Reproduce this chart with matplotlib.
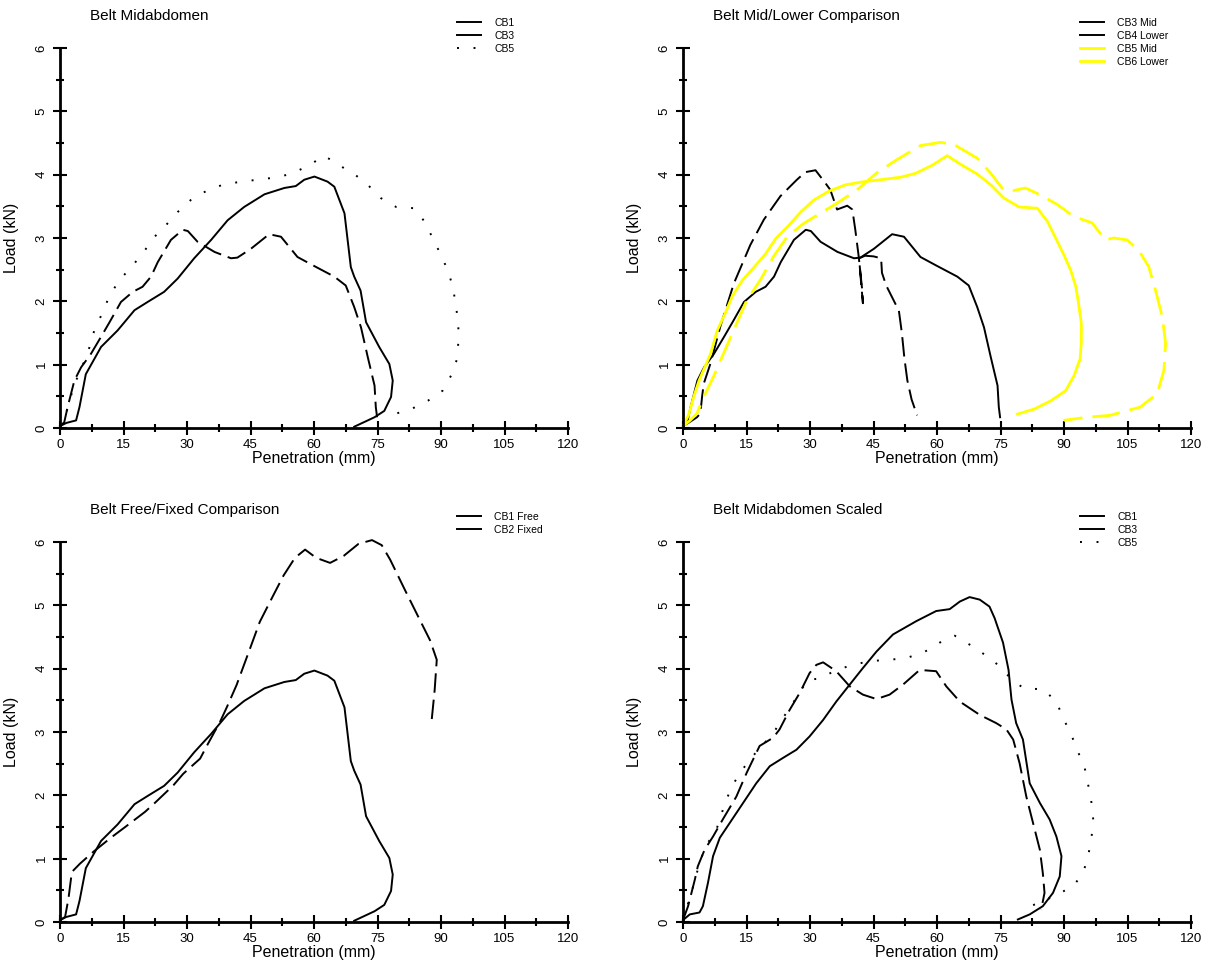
import matplotlib
matplotlib.use("Agg")
import matplotlib.pyplot as plt
from matplotlib.lines import Line2D
from matplotlib.ticker import MultipleLocator

plt.rcParams['font.family'] = ['Liberation Sans', 'DejaVu Sans']

# CB1 (free) - penetration (mm), load (kN)
cb1_x = [0, 1.5, 3.8, 4.6, 6.1, 9.7, 13.6, 17.6, 20.7, 24.6, 27.8, 31.7, 35.7, 39.6, 43.5,
         48.3, 53.0, 55.7, 57.7, 60.1, 63.2, 64.8, 67.2, 68.7, 69.5, 71.0, 72.3, 75.4,
         77.8, 78.6, 78.2, 76.6, 74.3, 69.5]
cb1_y = [0.03, 0.08, 0.12, 0.33, 0.85, 1.28, 1.54, 1.86, 1.99, 2.15, 2.36, 2.68, 2.97, 3.28,
         3.49, 3.69, 3.79, 3.82, 3.92, 3.97, 3.89, 3.81, 3.39, 2.54, 2.39, 2.17, 1.67, 1.28,
         1.01, 0.75, 0.49, 0.27, 0.17, 0.02]

# CB3 (mid)
cb3_x = [0, 1.0, 1.8, 2.6, 3.4, 5.0, 7.3, 9.7, 11.7, 14.4, 17.2, 19.5, 21.5, 23.1, 26.2,
         29.0, 30.2, 32.5, 36.5, 40.4, 41.9, 45.1, 49.4, 52.2, 56.1, 59.7, 64.8, 67.5,
         69.5, 71.1, 72.7, 74.3, 74.6, 74.9]
cb3_y = [0.03, 0.09, 0.33, 0.54, 0.75, 0.96, 1.17, 1.44, 1.67, 1.99, 2.15, 2.23, 2.39, 2.62,
         2.97, 3.13, 3.11, 2.94, 2.78, 2.68, 2.69, 2.83, 3.06, 3.02, 2.70, 2.57, 2.39, 2.25,
         1.91, 1.59, 1.12, 0.67, 0.33, 0.17]

# CB5 (mid)
cb5_x = [0, 1.3, 2.6, 3.8, 6.5, 8.1, 10.1, 11.7, 14.0, 16.8, 19.5, 21.9, 25.0, 27.8, 30.9,
         34.5, 38.4, 42.8, 46.7, 51.4, 54.9, 58.9, 62.4, 65.9, 69.5, 72.7, 75.8, 79.4,
         83.7, 86.1, 88.1, 90.0, 91.6, 92.8, 93.5, 94.1, 94.1, 93.8, 92.4, 90.4, 86.9,
         83.0, 79.0]
cb5_y = [0.03, 0.2, 0.51, 0.75, 1.17, 1.54, 1.83, 2.09, 2.33, 2.54, 2.75, 2.99, 3.20, 3.41,
         3.60, 3.74, 3.84, 3.89, 3.92, 3.96, 4.02, 4.15, 4.30, 4.15, 4.01, 3.84, 3.63, 3.49,
         3.47, 3.26, 2.99, 2.73, 2.49, 2.23, 1.94, 1.65, 1.36, 1.09, 0.83, 0.59, 0.43,
         0.30, 0.22]

# CB4 (lower)
cb4_x = [0, 1.7, 3.3, 4.1, 4.5, 4.9, 6.5, 8.8, 12.0, 15.9, 19.1, 23.0, 26.9, 28.9, 31.3,
         33.6, 34.8, 36.4, 38.8, 40.0, 40.7, 41.5, 42.3, 42.5, 42.0, 41.6, 43.0, 45.0,
         46.8, 47.0, 48.0, 49.5, 51.0, 51.7, 52.3, 53.0, 54.0, 55.3]
cb4_y = [0.03, 0.1, 0.17, 0.23, 0.49, 0.70, 1.02, 1.60, 2.28, 2.89, 3.29, 3.66, 3.92, 4.04,
         4.07, 3.87, 3.76, 3.45, 3.51, 3.45, 3.13, 2.71, 2.20, 1.97, 2.35, 2.68, 2.72, 2.71,
         2.68, 2.45, 2.25, 2.05, 1.85, 1.50, 1.10, 0.75, 0.45, 0.20]

# CB6 (lower)
cb6_x = [0, 1.7, 3.3, 4.9, 7.2, 9.6, 12.0, 15.1, 18.3, 21.4, 24.6, 28.5, 32.4, 36.4, 41.1,
         45.8, 50.6, 56.1, 60.8, 63.9, 69.5, 72.6, 75.7, 78.1, 80.9, 84.4, 88.4, 92.3,
         96.6, 99.8, 101.7, 104.9, 107.6, 110.0, 111.6, 113.2, 114.0, 113.6, 112.0,
         108.0, 100.9, 95.4, 89.9]
cb6_y = [0.03, 0.12, 0.23, 0.49, 0.81, 1.18, 1.55, 2.02, 2.34, 2.71, 3.02, 3.23, 3.39, 3.55,
         3.76, 4.03, 4.24, 4.46, 4.51, 4.48, 4.26, 4.03, 3.76, 3.75, 3.79, 3.68, 3.53, 3.34,
         3.24, 2.97, 3.00, 2.97, 2.81, 2.55, 2.18, 1.76, 1.34, 0.91, 0.54, 0.33, 0.20,
         0.17, 0.12]

# CB2 (fixed)
cb2_x = [0, 1.2, 2.0, 2.8, 4.7, 7.9, 12.2, 15.4, 20.1, 22.4, 26.8, 29.1, 33.1, 35.0, 37.8,
         39.4, 41.7, 44.9, 47.2, 50.4, 52.8, 55.5, 57.9, 60.5, 63.8, 67.0, 70.5, 73.7,
         76.0, 78.0, 81.5, 85.0, 87.4, 89.0, 88.5, 87.8]
cb2_y = [0.03, 0.08, 0.37, 0.79, 0.92, 1.11, 1.34, 1.50, 1.74, 1.88, 2.16, 2.34, 2.58, 2.82,
         3.16, 3.39, 3.74, 4.32, 4.74, 5.16, 5.47, 5.75, 5.88, 5.75, 5.67, 5.78, 5.97, 6.03,
         5.95, 5.72, 5.24, 4.77, 4.45, 4.14, 3.66, 3.19]

# scaled responses
cb1s_x = [0, 1.6, 3.9, 4.7, 5.9, 7.1, 8.7, 11.0, 14.2, 17.3, 20.5, 23.6, 26.8, 29.9, 33.1,
          36.2, 39.4, 42.5, 45.7, 49.6, 55.1, 59.8, 63.0, 65.4, 67.7, 70.1, 72.4, 73.6,
          75.6, 76.9, 77.6, 78.7, 80.3, 81.9, 84.3, 86.6, 88.2, 89.4, 89.0, 87.4, 85.0,
          81.9, 79.1]
cb1s_y = [0.03, 0.12, 0.15, 0.25, 0.62, 1.04, 1.33, 1.56, 1.88, 2.19, 2.46, 2.59, 2.72,
          2.93, 3.19, 3.48, 3.75, 4.01, 4.27, 4.54, 4.75, 4.91, 4.94, 5.06, 5.13, 5.09, 4.98,
          4.80, 4.41, 3.98, 3.51, 3.14, 2.88, 2.19, 1.88, 1.62, 1.35, 1.04, 0.72, 0.46, 0.25,
          0.12, 0.04]
cb3s_x = [0, 1.2, 2.0, 2.8, 3.5, 5.1, 7.1, 9.4, 12.6, 15.0, 18.1, 21.3, 22.8, 25.2, 27.6,
          29.9, 31.5, 33.1, 36.2, 39.4, 42.5, 45.7, 48.8, 52.0, 55.9, 59.8, 62.2, 65.4,
          70.1, 74.0, 76.4, 78.0, 79.5, 81.1, 82.7, 84.3, 85.0, 85.4, 84.6]
cb3s_y = [0.03, 0.25, 0.46, 0.67, 0.88, 1.14, 1.35, 1.62, 1.98, 2.35, 2.78, 2.91, 3.04,
          3.35, 3.62, 3.93, 4.06, 4.10, 3.96, 3.72, 3.59, 3.52, 3.59, 3.75, 3.98, 3.96, 3.72,
          3.48, 3.27, 3.14, 3.04, 2.88, 2.51, 1.98, 1.56, 1.14, 0.77, 0.46, 0.19]
cb5s_x = [0, 2.4, 3.5, 5.1, 7.9, 9.8, 11.4, 13.4, 16.1, 18.9, 21.3, 23.6, 26.0, 29.5, 32.3,
          36.2, 40.2, 44.1, 48.8, 52.8, 56.7, 60.6, 64.2, 67.7, 71.3, 74.8, 77.6, 80.7,
          85.0, 88.2, 89.8, 91.7, 93.3, 94.9, 95.7, 96.5, 96.9, 96.5, 95.7, 94.5, 92.1,
          88.2, 84.3, 80.3]
cb5s_y = [0.03, 0.56, 0.83, 1.17, 1.46, 1.85, 2.12, 2.35, 2.59, 2.80, 2.98, 3.22, 3.46,
          3.83, 3.84, 3.98, 4.06, 4.12, 4.14, 4.17, 4.25, 4.41, 4.52, 4.38, 4.22, 4.04, 3.83,
          3.68, 3.68, 3.48, 3.22, 2.96, 2.69, 2.43, 2.17, 1.88, 1.62, 1.33, 1.04, 0.77, 0.56,
          0.43, 0.30, 0.22]

titles = ["Belt Midabdomen", "Belt Mid/Lower Comparison",
          "Belt Free/Fixed Comparison", "Belt Midabdomen Scaled"]

LW = 1.4
SOLID = '-'
DASH = (0, (10, 3.6))
DOT = (0, (1, 7.5))
YEL = '#ffff00'


def style_axes(ax, title):
    for s in ['top', 'right']:
        ax.spines[s].set_visible(False)
    for s in ['left', 'bottom']:
        ax.spines[s].set_linewidth(2)
    ax.set_xlim(0, 120)
    ax.set_ylim(0, 6)
    ax.xaxis.set_major_locator(MultipleLocator(15))
    ax.xaxis.set_minor_locator(MultipleLocator(7.5))
    ax.yaxis.set_major_locator(MultipleLocator(1))
    ax.yaxis.set_minor_locator(MultipleLocator(0.5))
    ax.tick_params(which='major', direction='inout', length=10, width=1.5, labelsize=9.5)
    ax.tick_params(which='minor', direction='inout', length=6, width=1.5)
    ax.tick_params(axis='x', pad=3)
    ax.tick_params(axis='y', pad=4)
    for lab in ax.get_yticklabels():
        lab.set_rotation(90)
        lab.set_va('center')
    ax.set_xlabel("Penetration (mm)", fontsize=11.5, labelpad=0)
    ax.set_ylabel("Load (kN)", fontsize=11.5, labelpad=12)
    ax.text(0.059, 1.085, title, transform=ax.transAxes, fontsize=11, va='center')


fig = plt.figure(figsize=(12.14, 9.69), dpi=100)
W, H = 1214, 969
positions = [(60, 428), (683, 428), (60, 922), (683, 922)]
axes = []
for (x0, y0) in positions:
    ax = fig.add_axes([x0 / W, 1 - y0 / H, 508 / W, 380 / H])
    axes.append(ax)

# panel 1
ax = axes[0]
ax.plot(cb1_x, cb1_y, color='k', lw=LW, ls=SOLID, clip_on=False)
ax.plot(cb3_x, cb3_y, color='k', lw=LW, ls=DASH, clip_on=False)
ax.plot(cb5_x, cb5_y, color='k', lw=LW, ls=DOT, clip_on=False)
leg1 = [Line2D([], [], color='k', lw=LW), Line2D([], [], color='k', lw=LW),
        Line2D([], [], color='k', lw=LW, ls=DOT)]
labels1 = ["CB1", "CB3", "CB5"]

# panel 2
ax = axes[1]
ax.plot(cb3_x, cb3_y, color='k', lw=LW, ls=SOLID, clip_on=False)
ax.plot(cb4_x, cb4_y, color='k', lw=LW, ls=DASH, clip_on=False)
ax.plot(cb5_x, cb5_y, color=YEL, lw=2, ls=SOLID, clip_on=False)
ax.plot(cb6_x, cb6_y, color=YEL, lw=2, ls=DASH, clip_on=False)
leg2 = [Line2D([], [], color='k', lw=LW), Line2D([], [], color='k', lw=LW),
        Line2D([], [], color=YEL, lw=2), Line2D([], [], color=YEL, lw=2)]
labels2 = ["CB3 Mid", "CB4 Lower", "CB5 Mid", "CB6 Lower"]

# panel 3
ax = axes[2]
ax.plot(cb1_x, cb1_y, color='k', lw=LW, ls=SOLID, clip_on=False)
ax.plot(cb2_x, cb2_y, color='k', lw=LW, ls=DASH, clip_on=False)
leg3 = [Line2D([], [], color='k', lw=LW), Line2D([], [], color='k', lw=LW)]
labels3 = ["CB1 Free", "CB2 Fixed"]

# panel 4
ax = axes[3]
ax.plot(cb1s_x, cb1s_y, color='k', lw=LW, ls=SOLID, clip_on=False)
ax.plot(cb3s_x, cb3s_y, color='k', lw=LW, ls=DASH, clip_on=False)
ax.plot(cb5s_x, cb5s_y, color='k', lw=LW, ls=DOT, clip_on=False)

legends = [(leg1, labels1), (leg2, labels2), (leg3, labels3), (leg1, labels1)]
for ax, t, (hs, ls) in zip(axes, titles, legends):
    style_axes(ax, t)
    ax.legend(hs, ls, loc='upper left', bbox_to_anchor=(0.781, 1.08), frameon=False,
              fontsize=7.5, handlelength=2.3, handletextpad=1.3, labelspacing=0.3,
              borderaxespad=0, borderpad=0)

fig.savefig("out.png", dpi=100)
